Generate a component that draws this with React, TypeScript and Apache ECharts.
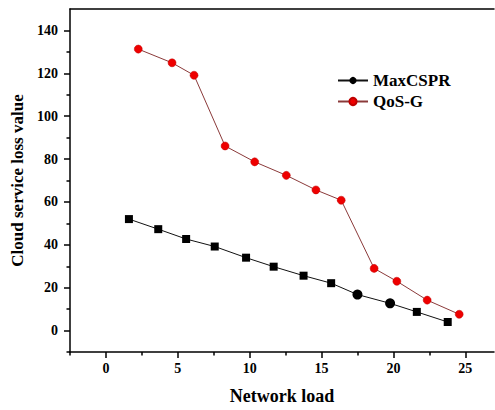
import React, { useEffect, useRef } from "react";
import * as echarts from "echarts";

const maxCsprX = [1.6, 3.64, 5.58, 7.57, 9.75, 11.67, 13.75, 15.67, 17.5, 19.77, 21.63, 23.78];
const maxCsprY = [52.0, 47.3, 42.7, 39.2, 34.0, 29.8, 25.6, 22.1, 16.8, 12.7, 8.7, 4.0];
const maxCsprShapes = ["rect", "rect", "rect", "rect", "rect", "rect", "rect", "rect", "circle", "circle", "rect", "rect"];
const qosX = [2.25, 4.6, 6.13, 8.29, 10.35, 12.55, 14.61, 16.37, 18.66, 20.24, 22.35, 24.58];
const qosY = [131.3, 124.9, 119.1, 86.1, 78.7, 72.4, 65.6, 60.8, 29.0, 23.0, 14.2, 7.6];
const xMajorTicks = [0, 5, 10, 15, 20, 25];
const xMinorTicks = [-2.5, 2.5, 7.5, 12.5, 17.5, 22.5];
const yMajorTicks = [0, 20, 40, 60, 80, 100, 120, 140];
const yMinorTicks = [-10, 10, 30, 50, 70, 90, 110, 130];

const FONT = "'Liberation Serif', 'Times New Roman', serif";

export default function App() {
  const ref = useRef<HTMLDivElement>(null);
  useEffect(() => {
    if (!ref.current) return;
    const chart = echarts.init(ref.current, null, { renderer: "svg" });
    const lineStyle = { color: "#000", width: 1.5 };
    const labelStyle = { fontFamily: FONT, fontWeight: "bold" as const, fontSize: 14, color: "#000" };
    chart.setOption({
      animation: false,
      backgroundColor: "#fff",
      grid: { left: 70, right: 1, top: 9, bottom: 52, containLabel: false },
      legend: {
        orient: "vertical",
        left: 332,
        top: 67,
        itemGap: 4,
        itemWidth: 30,
        itemHeight: 9,
        textStyle: { fontFamily: FONT, fontWeight: "bold", fontSize: 17, color: "#000", lineHeight: 16 },
        data: ["MaxCSPR", "QoS-G"],
      },
      xAxis: [
        {
          type: "value",
          min: -2.5,
          max: 27,
          position: "bottom",
          name: "Network load",
          nameLocation: "middle",
          nameGap: 35,
          nameTextStyle: { fontFamily: FONT, fontWeight: "bold", fontSize: 18, color: "#000" },
          axisLine: { show: true, onZero: false, lineStyle },
          axisTick: { show: true, inside: false, length: 6, customValues: xMajorTicks, lineStyle },
          axisLabel: { show: true, margin: 9, customValues: xMajorTicks, ...labelStyle },
          splitLine: { show: false },
        },
        {
          type: "value",
          min: -2.5,
          max: 27,
          position: "bottom",
          axisLine: { show: false, onZero: false },
          axisTick: { show: true, inside: false, length: 3.5, customValues: xMinorTicks, lineStyle },
          axisLabel: { show: false },
          splitLine: { show: false },
        },
        {
          type: "value",
          min: -2.5,
          max: 27,
          position: "top",
          axisLine: { show: true, onZero: false, lineStyle },
          axisTick: { show: false },
          axisLabel: { show: false },
          splitLine: { show: false },
        },
      ],
      yAxis: [
        {
          type: "value",
          min: -10,
          max: 150,
          position: "left",
          name: "Cloud service loss value",
          nameLocation: "middle",
          nameGap: 37,
          nameTextStyle: { fontFamily: FONT, fontWeight: "bold", fontSize: 17, color: "#000" },
          axisLine: { show: true, onZero: false, lineStyle },
          axisTick: { show: true, inside: false, length: 6, customValues: yMajorTicks, lineStyle },
          axisLabel: { show: true, margin: 12, customValues: yMajorTicks, ...labelStyle },
          splitLine: { show: false },
        },
        {
          type: "value",
          min: -10,
          max: 150,
          position: "left",
          axisLine: { show: false, onZero: false },
          axisTick: { show: true, inside: false, length: 3.5, customValues: yMinorTicks, lineStyle },
          axisLabel: { show: false },
          splitLine: { show: false },
        },
      ],
      series: [
        {
          name: "MaxCSPR",
          type: "line",
          xAxisIndex: 0,
          yAxisIndex: 0,
          symbol: "circle",
          symbolSize: 8,
          itemStyle: { color: "#000" },
          lineStyle: { color: "#111", width: 1 },
          data: maxCsprX.map((x, i) => ({
            value: [x, maxCsprY[i]],
            symbol: maxCsprShapes[i],
            symbolSize: maxCsprShapes[i] === "circle" ? 10 : 8,
          })),
        },
        {
          name: "QoS-G",
          type: "line",
          xAxisIndex: 0,
          yAxisIndex: 0,
          symbol: "circle",
          symbolSize: 8,
          itemStyle: { color: "#ee0000", borderColor: "#c00000", borderWidth: 0.5 },
          lineStyle: { color: "#8b3a3a", width: 1 },
          data: qosX.map((x, i) => [x, qosY[i]]),
        },
      ],
    });
    return () => chart.dispose();
  }, []);
  return <div ref={ref} style={{ width: 495, height: 410, position: "absolute", left: 0, top: 0 }} />;
}
